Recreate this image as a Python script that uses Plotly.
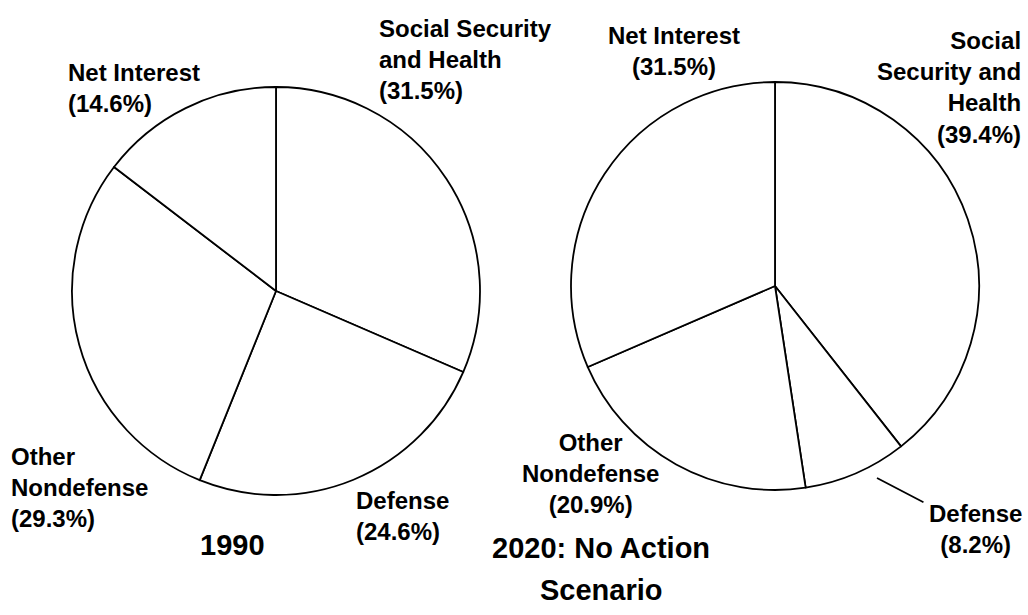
import plotly.graph_objects as go

W, H = 1028, 615

# Data
categories = ["Social Security and Health", "Defense", "Other Nondefense", "Net Interest"]
values_1990 = [31.5, 24.6, 29.3, 14.6]
values_2020 = [39.4, 8.2, 20.9, 31.5]
title_1990 = "1990"
title_2020 = ["2020: No Action", "Scenario"]

labels_1990 = ["Social Security<br>and Health<br>(31.5%)", "Defense<br>(24.6%)",
               "Other<br>Nondefense<br>(29.3%)", "Net Interest<br>(14.6%)"]
labels_2020 = ["Social<br>Security and<br>Health<br>(39.4%)", "Defense<br>(8.2%)",
               "Other<br>Nondefense<br>(20.9%)", "Net Interest<br>(31.5%)"]

FONT = "Liberation Sans"


def px(x):
    return x / W


def py(y):
    return 1 - y / H


def pie_domain(cx, cy, r):
    return dict(x=[px(cx - r), px(cx + r)], y=[py(cy + r), py(cy - r)])


fig = go.Figure()
common = dict(
    labels=categories, sort=False, direction="clockwise", rotation=0,
    textinfo="none", hoverinfo="label+percent", showlegend=False,
    marker=dict(colors=["white"] * 4, line=dict(color="black", width=1.8)),
)
fig.add_trace(go.Pie(values=values_1990, domain=pie_domain(276, 291, 204), **common))
fig.add_trace(go.Pie(values=values_2020, domain=pie_domain(775, 286, 204), **common))

lab_font = dict(family=FONT, size=24, color="black", weight="bold")
title_font = dict(family=FONT, size=29, color="black", weight="bold")

# (text, x, y, xanchor, align)
ann_specs = [
    (labels_1990[0], 377, 59, "left", "left"),
    (labels_1990[1], 354, 516, "left", "left"),
    (labels_1990[2], 9, 487, "left", "left"),
    (labels_1990[3], 66, 88, "left", "left"),
    (labels_2020[0], 1023, 88, "right", "right"),
    (labels_2020[2], 590, 473, "center", "center"),
    (labels_2020[3], 674, 51, "center", "center"),
]
for text, x, y, xa, al in ann_specs:
    fig.add_annotation(text=text, x=px(x), y=py(y), xref="paper", yref="paper",
                       xanchor=xa, yanchor="middle", align=al, showarrow=False,
                       font=lab_font)

# Defense 2020 label with leader line
fig.add_annotation(text=labels_2020[1], x=px(877), y=py(478), xref="paper", yref="paper",
                   ax=975 - 877, ay=529 - 478, axref="pixel", ayref="pixel",
                   showarrow=True, arrowhead=0, arrowwidth=1.8, arrowcolor="black",
                   standoff=0, startstandoff=4, align="center", font=lab_font)

fig.add_annotation(text=title_1990, x=px(232), y=py(545), xref="paper", yref="paper",
                   xanchor="center", yanchor="middle", showarrow=False, font=title_font)
for line, y in zip(title_2020, [548, 590]):
    fig.add_annotation(text=line, x=px(601), y=py(y), xref="paper", yref="paper",
                       xanchor="center", yanchor="middle", showarrow=False,
                       font=title_font)

fig.update_layout(width=W, height=H, margin=dict(l=0, r=0, t=0, b=0),
                  paper_bgcolor="white", plot_bgcolor="white")
fig.write_html("out.html")
